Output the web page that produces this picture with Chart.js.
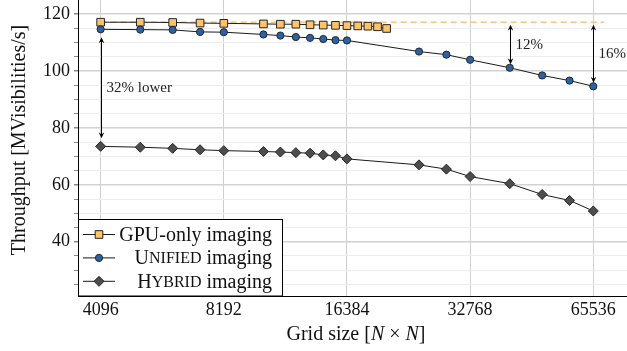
<!DOCTYPE html>
<html lang="en">
<head>
<meta charset="UTF-8">
<title>Throughput vs grid size</title>
<script src="https://cdn.jsdelivr.net/npm/chart.js"></script>
<style>
  html, body { margin: 0; padding: 0; background: #fff; }
  #chart { display: block; }
</style>
</head>
<body>
<canvas id="chart" width="627" height="351"></canvas>
<script>
// Grid sizes (N) measured for each configuration
const gpuSizes = [4096, 5120, 6144, 7168, 8192, 10240, 11264, 12288, 13312, 14336, 15360, 16384, 17408, 18432, 19456, 20480];
const gridSizes = [4096, 5120, 6144, 7168, 8192, 10240, 11264, 12288, 13312, 14336, 15360, 16384, 24576, 28672, 32768, 40960, 49152, 57344, 65536];

// Throughput in MVisibilities/s
const gpuOnly = [117.1, 117.1, 117.0, 116.8, 116.7, 116.5, 116.4, 116.4, 116.2, 116.1, 116.0, 115.9, 115.8, 115.7, 115.5, 114.9];
const unified = [114.6, 114.5, 114.4, 113.7, 113.6, 112.8, 112.4, 111.9, 111.6, 111.2, 110.8, 110.7, 106.8, 105.7, 103.9, 101.1, 98.4, 96.6, 94.6];
const hybrid = [73.5, 73.2, 72.8, 72.3, 72.0, 71.7, 71.5, 71.3, 71.1, 70.5, 70.2, 69.1, 67.0, 65.5, 62.9, 60.4, 56.6, 54.5, 50.8];

// GPU-only peak, drawn as a dashed reference across the range
const refSpan = [4096, 69632];

const xTicks = [4096, 8192, 16384, 32768, 65536];
const yTicks = [25, 30, 35, 40, 45, 50, 55, 60, 65, 70, 75, 80, 85, 90, 95, 100, 105, 110, 115, 120];
const yLabelled = [40, 60, 80, 100, 120];

const serif = '"Liberation Serif", "DejaVu Serif", serif';
const colors = { gpu: '#ffc46b', unified: '#2b62a6', hybrid: '#4d4d4d', ref: '#ffb84d' };

function points(xs, ys) {
  return xs.map((x, i) => ({ x, y: ys[i] }));
}

// draw a stealth arrow tip at (x, y); dir = 1 points down, -1 points up
function arrowTip(ctx, x, y, dir) {
  const len = 6, half = 2.8;
  ctx.beginPath();
  ctx.moveTo(x, y);
  ctx.lineTo(x - half, y - dir * len);
  ctx.lineTo(x, y - dir * len * 0.65);
  ctx.lineTo(x + half, y - dir * len);
  ctx.closePath();
  ctx.fill();
}

function doubleArrow(ctx, x, y1, y2) {
  ctx.beginPath();
  ctx.moveTo(x, y1 + 2);
  ctx.lineTo(x, y2 - 2);
  ctx.stroke();
  arrowTip(ctx, x, y1, -1);
  arrowTip(ctx, x, y2, 1);
}

// text drawn in pieces so parts can be italic or small caps
function drawRuns(ctx, runs, x, y, align) {
  const widths = runs.map(r => { ctx.font = r.font; return ctx.measureText(r.text).width; });
  const total = widths.reduce((a, b) => a + b, 0);
  let cx = align === 'right' ? x - total : align === 'center' ? x - total / 2 : x;
  runs.forEach((r, i) => {
    ctx.font = r.font;
    ctx.fillText(r.text, cx, y);
    cx += widths[i];
  });
}

function labelRuns(word, caps, size) {
  const runs = [];
  if (caps) {
    runs.push({ text: word[0], font: size + 'px ' + serif });
    runs.push({ text: word.slice(1).toUpperCase(), font: Math.round(size * 0.78) + 'px ' + serif });
  } else {
    runs.push({ text: word, font: size + 'px ' + serif });
  }
  runs.push({ text: ' imaging', font: size + 'px ' + serif });
  return runs;
}

const gaps = [
  { x: 4096, from: () => unified[0], to: () => hybrid[0], pad: [8, 8], text: '32% lower' },
  { x: 40960, from: () => gpuOnly[0], to: () => unified[15], pad: [2.5, 3.5], text: '12%' },
  { x: 65536, from: () => gpuOnly[0], to: () => unified[18], pad: [2.5, 3.5], text: '16%' }
];

const legendItems = [
  { word: 'GPU-only', caps: false, style: 'rect', radius: 5.4, fill: colors.gpu },
  { word: 'Unified', caps: true, style: 'circle', radius: 3.6, fill: colors.unified },
  { word: 'Hybrid', caps: true, style: 'rectRot', radius: 5, fill: colors.hybrid }
];

const decorations = {
  id: 'decorations',
  afterDatasetsDraw(chart) {
    const { ctx, scales: { x, y } } = chart;
    ctx.save();
    ctx.strokeStyle = '#000';
    ctx.fillStyle = '#000';
    ctx.lineWidth = 1;
    gaps.forEach(g => {
      const px = Math.round(x.getPixelForValue(g.x)) + 0.5;
      const y1 = y.getPixelForValue(g.from());
      const y2 = y.getPixelForValue(g.to());
      doubleArrow(ctx, px, y1 + g.pad[0], y2 - g.pad[1]);
      ctx.font = '15px ' + serif;
      ctx.textBaseline = 'middle';
      ctx.textAlign = 'left';
      ctx.fillStyle = '#222';
      ctx.fillText(g.text, px + 5, (y1 + y2) / 2);
      ctx.fillStyle = '#000';
    });
    ctx.restore();
  },
  afterDraw(chart) {
    const { ctx, chartArea } = chart;
    ctx.save();

    // axis titles
    ctx.fillStyle = '#111';
    ctx.textBaseline = 'middle';
    ctx.textAlign = 'left';
    const f = '20px ' + serif, fi = 'italic 20px ' + serif;
    drawRuns(ctx, [
      { text: 'Grid size [', font: f }, { text: 'N', font: fi },
      { text: ' × ', font: f }, { text: 'N', font: fi }, { text: ']', font: f }
    ], 356, 335, 'center');
    ctx.translate(20, 140);
    ctx.rotate(-Math.PI / 2);
    drawRuns(ctx, [{ text: 'Throughput [MVisibilities/s]', font: f }], 0, 0, 'center');
    ctx.setTransform(1, 0, 0, 1, 0, 0);

    // legend box in the lower left corner
    const bx = chartArea.left + 0.5, by = 219.5, bw = 204, bh = chartArea.bottom - by;
    ctx.fillStyle = '#fff';
    ctx.fillRect(bx, by, bw, bh);
    ctx.strokeStyle = '#000';
    ctx.lineWidth = 1;
    ctx.strokeRect(bx, by, bw, bh);
    legendItems.forEach((item, i) => {
      const ry = 234.5 + i * 23.4;
      ctx.strokeStyle = '#1a1a1a';
      ctx.beginPath();
      ctx.moveTo(83, ry);
      ctx.lineTo(115, ry);
      ctx.stroke();
      ctx.fillStyle = item.fill;
      ctx.strokeStyle = '#262626';
      Chart.helpers.drawPoint(ctx, { pointStyle: item.style, radius: item.radius, rotation: 0, borderWidth: 1 }, 99, ry);
      ctx.fillStyle = '#111';
      ctx.textBaseline = 'middle';
      drawRuns(ctx, labelRuns(item.word, item.caps, 20), 272, ry + 1, 'right');
    });
    ctx.restore();
  }
};

const lineStyle = { borderColor: '#1a1a1a', borderWidth: 1, pointBorderColor: '#262626', pointBorderWidth: 1, tension: 0 };

new Chart(document.getElementById('chart'), {
  type: 'line',
  data: {
    datasets: [
      Object.assign({ label: 'Unified imaging', data: points(gridSizes, unified), pointStyle: 'circle', pointRadius: 3.6, pointBackgroundColor: colors.unified, order: 1 }, lineStyle),
      Object.assign({ label: 'GPU-only imaging', data: points(gpuSizes, gpuOnly), pointStyle: 'rect', pointRadius: 5.4, pointBackgroundColor: colors.gpu, order: 2 }, lineStyle),
      Object.assign({ label: 'Hybrid imaging', data: points(gridSizes, hybrid), pointStyle: 'rectRot', pointRadius: 5, pointBackgroundColor: colors.hybrid, order: 3 }, lineStyle),
      {
        label: 'GPU-only peak',
        data: refSpan.map(v => ({ x: v, y: gpuOnly[0] })),
        borderColor: colors.ref, borderWidth: 1.3, borderDash: [6, 4], pointRadius: 0, order: 9
      }
    ]
  },
  options: {
    responsive: false,
    animation: false,
    devicePixelRatio: 1,
    layout: { padding: 0, autoPadding: false },
    plugins: { legend: { display: false }, tooltip: { enabled: false } },
    scales: {
      x: {
        type: 'logarithmic',
        min: 3606,
        max: 79230,
        afterBuildTicks: s => { s.ticks = xTicks.map(value => ({ value })); },
        afterFit: s => { s.height = 55; s.paddingLeft = 0; s.paddingRight = 0; },
        ticks: {
          callback: v => String(v),
          font: { family: serif, size: 18 },
          color: '#111',
          padding: 3,
          maxRotation: 0,
          autoSkip: false
        },
        grid: { color: '#d0d0d0', lineWidth: 1, tickLength: 0 },
        border: { color: '#000', width: 1 }
      },
      y: {
        type: 'linear',
        min: 20.95,
        max: 124.9,
        afterBuildTicks: s => { s.ticks = yTicks.map(value => ({ value })); },
        afterFit: s => { s.width = 78; s.paddingTop = 0; s.paddingBottom = 0; },
        ticks: {
          callback: v => (yLabelled.includes(v) ? String(v) : ''),
          font: { family: serif, size: 18 },
          color: '#111',
          padding: 4,
          autoSkip: false
        },
        grid: {
          color: c => (c.tick && yLabelled.includes(c.tick.value) ? '#d2d2d2' : '#ededed'),
          lineWidth: c => (c.tick && yLabelled.includes(c.tick.value) ? 1.5 : 1),
          tickLength: 4,
          tickColor: '#888'
        },
        border: { color: '#000', width: 1 }
      }
    }
  },
  plugins: [decorations]
});
</script>
</body>
</html>
